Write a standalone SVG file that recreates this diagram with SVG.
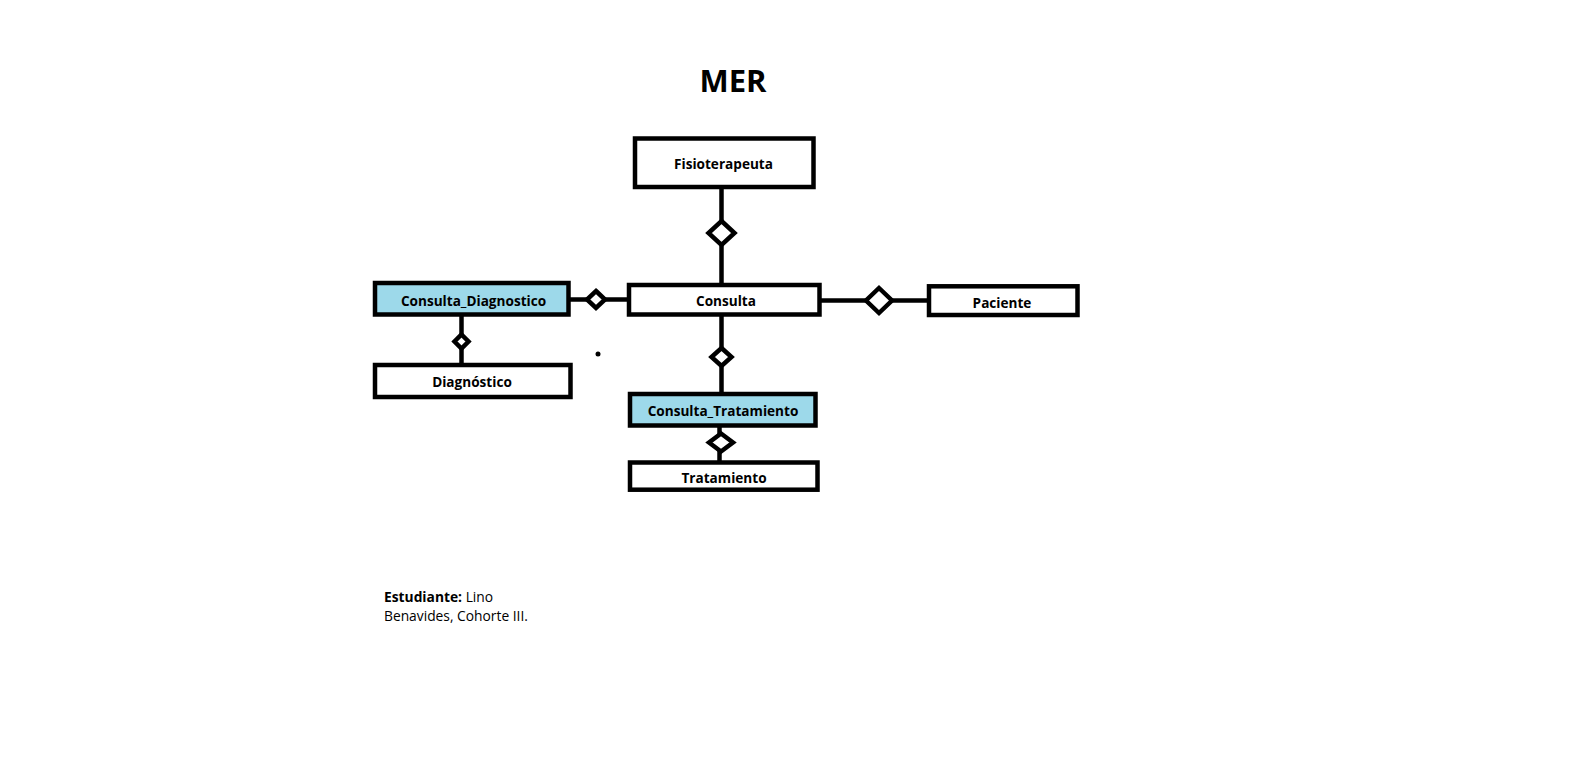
<svg xmlns="http://www.w3.org/2000/svg" width="1581" height="765" viewBox="0 0 1581 765">
<style>
.box{fill:#fff;stroke:#000;stroke-width:4.5}
.weak{fill:#9dd9ea;stroke:#000;stroke-width:4.5}
.lbl{font-family:"Open Sans","Liberation Sans",sans-serif;font-weight:bold;font-size:13.6px;text-anchor:middle;dominant-baseline:central}
.ln{stroke:#000;stroke-width:4.5;fill:none}
.dia{fill:#fff;stroke:#000;stroke-width:4.5;stroke-linejoin:miter}
.note{font-family:"Open Sans","Liberation Sans",sans-serif;font-size:13.8px}
</style>
<rect width="1581" height="765" fill="#fff"/>
<text x="733" y="92" style="font-family:'Open Sans','Liberation Sans',sans-serif;font-weight:bold;font-size:31px;text-anchor:middle">MER</text>
<g id="connectors">
<line class="ln" x1="721.5" y1="187" x2="721.5" y2="285"/>
<polygon class="dia" points="721.5,221 734.5,233 721.5,245 708.5,233"/>
<line class="ln" x1="568.5" y1="299.5" x2="631" y2="299.5"/>
<polygon class="dia" points="596,291 605,299.5 596,308 587,299.5"/>
<line class="ln" x1="461.5" y1="314.5" x2="461.5" y2="365"/>
<polygon class="dia" points="461.5,334.5 468.5,341.5 461.5,348.5 454.5,341.5"/>
<line class="ln" x1="815.5" y1="300.5" x2="929" y2="300.5"/>
<polygon class="dia" points="879,288 892,300.5 879,313 866,300.5"/>
<line class="ln" x1="721.5" y1="314.5" x2="721.5" y2="394"/>
<polygon class="dia" points="721.5,348 731.5,357 721.5,366 711.5,357"/>
<line class="ln" x1="719.5" y1="425.5" x2="719.5" y2="462.5"/>
<polygon class="dia" points="721,433.5 733,442.5 721,451.5 709,442.5"/>
<circle cx="598" cy="354" r="2.5" fill="#000"/>
</g>
<g id="fisioterapeuta"><rect class="box" x="635" y="138.5" width="178.5" height="48.5"/><text class="lbl" x="723.5" y="163.5">Fisioterapeuta</text></g>
<g id="consulta"><rect class="box" x="629" y="285" width="190.5" height="29.5"/><text class="lbl" x="726" y="300.5">Consulta</text></g>
<g id="consulta_diagnostico"><rect class="weak" x="375" y="283" width="193.5" height="31.5"/><text class="lbl" x="473.5" y="300">Consulta_Diagnostico</text></g>
<g id="diagnostico"><rect class="box" x="375" y="365" width="195.5" height="32"/><text class="lbl" x="472" y="381">Diagnóstico</text></g>
<g id="paciente"><rect class="box" x="929" y="286.3" width="148.5" height="28.7"/><text class="lbl" x="1002" y="302">Paciente</text></g>
<g id="consulta_tratamiento"><rect class="weak" x="630" y="394" width="185.5" height="31.5"/><text class="lbl" x="723" y="410">Consulta_Tratamiento</text></g>
<g id="tratamiento"><rect class="box" x="630" y="462.5" width="187.5" height="27.2"/><text class="lbl" x="724" y="477">Tratamiento</text></g>
<g id="note">
<text class="note" x="384" y="602"><tspan font-weight="bold">Estudiante:</tspan> Lino</text>
<text class="note" x="384" y="621">Benavides, Cohorte III.</text>
</g>
</svg>
